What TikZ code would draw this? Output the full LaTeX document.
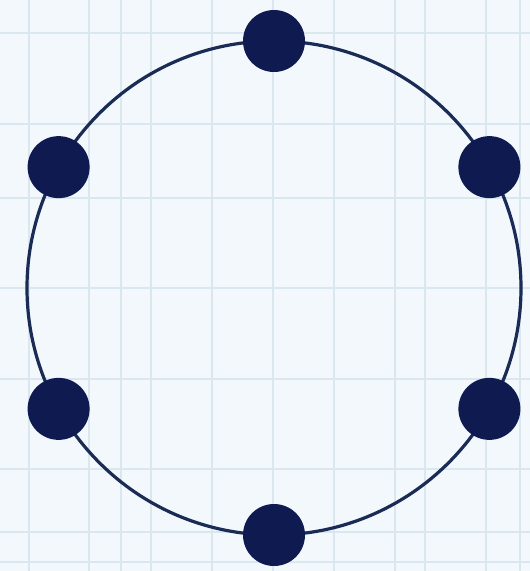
\documentclass[tikz,border=0pt]{standalone}
\usetikzlibrary{calc}
\definecolor{bgc}{HTML}{F2F8FC}
\definecolor{gridc}{HTML}{DAE7EE}
\definecolor{ringc}{HTML}{1A2C55}
\definecolor{dotc}{HTML}{0E1A50}
\tikzset{
  gridline/.style={draw=gridc, line width=1.4pt},
  ring/.style={draw=ringc, line width=3.2pt},
  dotnode/.style={circle, fill=dotc, minimum size=62pt, inner sep=0pt}
}
\begin{document}
\begin{tikzpicture}[x=1pt,y=-1pt]
\fill[bgc] (0,0) rectangle (530,571);
\useasboundingbox (0,0) rectangle (530,571);
\foreach \gx in {29,89,121,151,212,273,334,395,425,486,520}
  \draw[gridline] (\gx,0) -- (\gx,571);
\foreach \gy in {33,124,198,288,379,469,532,562}
  \draw[gridline] (0,\gy) -- (530,\gy);
\coordinate (c) at (274,288);
\draw[ring] (c) circle [radius=247];
\node[dotnode] (top) at ($(c)+(90:247)$) {};
\node[dotnode] (tr) at ($(c)+(29.3:247)$) {};
\node[dotnode] (br) at ($(c)+(-29.3:247)$) {};
\node[dotnode] (bot) at ($(c)+(-90:247)$) {};
\node[dotnode] (bl) at ($(c)+(-150.7:247)$) {};
\node[dotnode] (tl) at ($(c)+(150.7:247)$) {};
\end{tikzpicture}
\end{document}
